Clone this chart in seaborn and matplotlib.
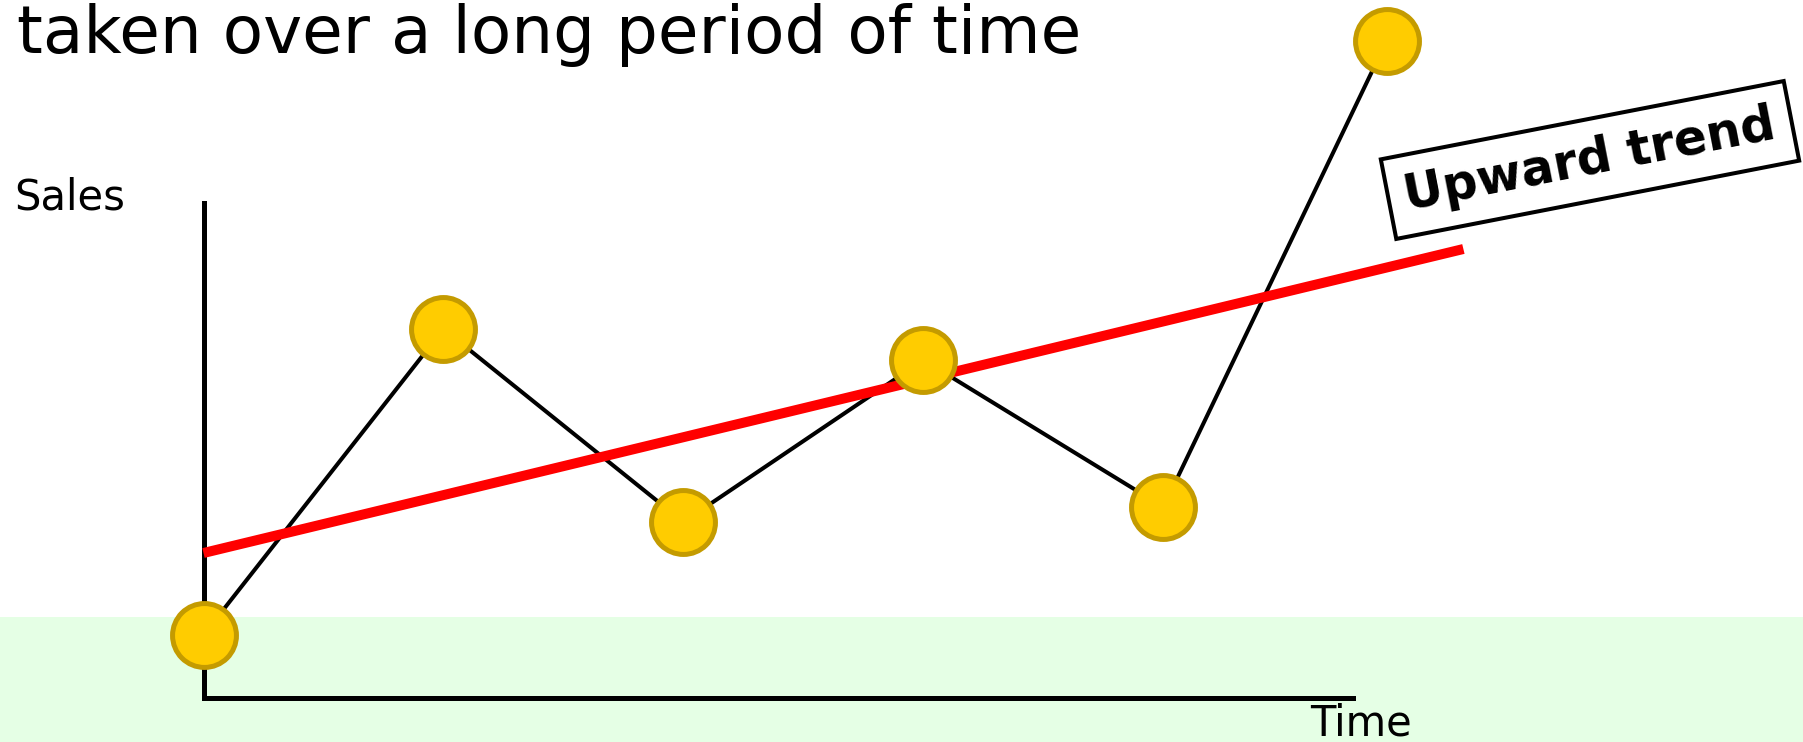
import matplotlib
matplotlib.use("Agg")
import matplotlib.pyplot as plt
from matplotlib.patches import Rectangle
import seaborn as sns
import pandas as pd

# ---- data ----
time = [0, 1, 2, 3, 4, 4.93]
sales = [6.3, 36.9, 17.6, 33.8, 19.1, 65.7]
trend_time = [0, 5.25]
trend_sales = [14.5, 44.9]

title_text = "taken over a long period of time"
y_label = "Sales"
x_label = "Time"
trend_label = "Upward trend"

sns.set_style("white")
plt.rcParams["font.family"] = ["DejaVu Sans"]

W, H, DPI = 1803, 742, 100
fig = plt.figure(figsize=(W / DPI, H / DPI), dpi=DPI)
fig.patch.set_facecolor("white")

# axes: left spine at x=203.5px, bottom spine at y=698px
ax = fig.add_axes([203.5 / W, (H - 698) / H, (1353 - 203.5) / W, (698 - 203) / H])
ax.patch.set_alpha(0)
ax.set_xlim(0, 4.79)
ax.set_ylim(0, 49.5)
ax.set_xticks([])
ax.set_yticks([])
for side in ["top", "right"]:
    ax.spines[side].set_visible(False)
for side in ["left", "bottom"]:
    ax.spines[side].set_linewidth(3.6)
    ax.spines[side].set_color("black")
    ax.spines[side].set_zorder(2.5)

# light green band at bottom
band = Rectangle((0, 0), 1, (H - 617) / H, transform=fig.transFigure,
                 facecolor="#E5FFE5", edgecolor="none", zorder=0, clip_on=False)
ax.add_patch(band)

df = pd.DataFrame({"time": time, "sales": sales})
tdf = pd.DataFrame({"time": trend_time, "sales": trend_sales})

sns.lineplot(data=df, x="time", y="sales", color="black", linewidth=2.9,
             ax=ax, clip_on=False, zorder=3, sort=False)
sns.lineplot(data=tdf, x="time", y="sales", color="#FF0000", linewidth=7.2,
             ax=ax, clip_on=False, zorder=4, solid_capstyle="butt")
sns.scatterplot(data=df, x="time", y="sales", s=46 ** 2, color="#FFCC00",
                edgecolor="#C49B00", linewidth=3.6, ax=ax, clip_on=False,
                zorder=5)
ax.set_xlabel("")
ax.set_ylabel("")

# texts
fig.text(17 / W, 1 - 53 / H, title_text, fontsize=47.5, va="baseline",
         ha="left", color="black")
fig.text(14 / W, 1 - 210 / H, y_label, fontsize=30, va="baseline",
         ha="left", color="black")
fig.text(1310 / W, 1 - 736 / H, x_label, fontsize=30, va="baseline",
         ha="left", color="black")
fig.text(1590 / W, 1 - 160 / H, trend_label, fontsize=35, fontweight="bold",
         rotation=11, rotation_mode="anchor", ha="center", va="center",
         color="black",
         bbox=dict(boxstyle="square,pad=0.34", facecolor="white",
                   edgecolor="black", linewidth=2.9))

fig.savefig("out.png", dpi=DPI)
